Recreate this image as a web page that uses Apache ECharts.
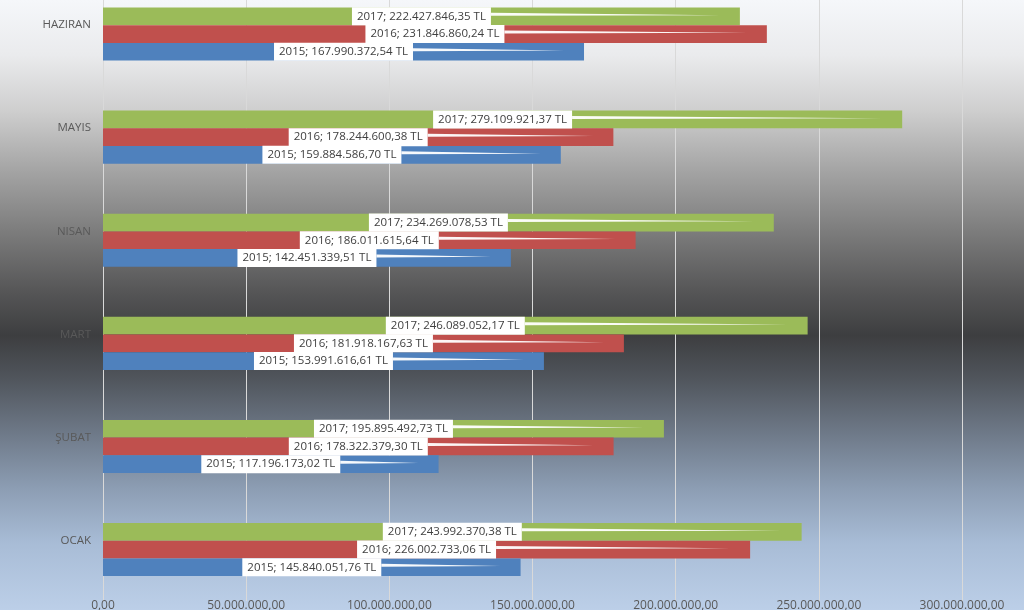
<!DOCTYPE html>
<html>
<head>
<meta charset="utf-8">
<script src="https://cdn.jsdelivr.net/npm/echarts@6/dist/echarts.min.js"></script>
<style>
html,body{margin:0;padding:0;}
#chart{width:1024px;height:610px;
background:linear-gradient(to bottom,#f5f7fa 0%,#eaebed 9%,#cfcfcf 18%,#a4a4a4 28%,#7c7c7c 38%,#555556 48%,#3d3e40 55%,#50555c 62%,#6e7988 71%,#8c9db3 80%,#a8bcd6 89%,#bccfe8 100%);}
</style>
</head>
<body>
<div id="chart"></div>
<script>
const categories = ['OCAK', 'ŞUBAT', 'MART', 'NISAN', 'MAYIS', 'HAZIRAN'];
const seriesNames = ['2015', '2016', '2017'];
const values2015 = [145840051.76, 117196173.02, 153991616.61, 142451339.51, 159884586.70, 167990372.54];
const values2016 = [226002733.06, 178322379.30, 181918167.63, 186011615.64, 178244600.38, 231846860.24];
const values2017 = [243992370.38, 195895492.73, 246089052.17, 234269078.53, 279109921.37, 222427846.35];
const xTicks = [0, 50000000, 100000000, 150000000, 200000000, 250000000, 300000000];
const colors = ['#4f81bd', '#c0504d', '#9bbb59'];

const allValues = [values2015, values2016, values2017];
const GAP = 0.485;
const LABEL_FONT = "11.5px 'Open Sans'";

function trFmt(v) {
  const parts = v.toFixed(2).split('.');
  return parts[0].replace(/\B(?=(\d{3})+(?!\d))/g, '.') + ',' + parts[1];
}
function labelText(name, v) { return name + '; ' + trFmt(v) + ' TL'; }

const mctx = document.createElement('canvas').getContext('2d');
mctx.font = LABEL_FONT;
function textW(t) { return mctx.measureText(t).width; }

const chart = echarts.init(document.getElementById('chart'), null, {renderer: 'canvas'});

// ECharts stacks horizontal bar series top-down, so 2017 goes first (top)
const order = [2, 1, 0];
const barSeries = order.map(i => ({
  name: seriesNames[i],
  type: 'bar',
  data: allValues[i],
  barGap: '0%',
  barCategoryGap: (GAP * 100) + '%',
  itemStyle: {color: colors[i]},
  z: 2,
  label: {
    show: true,
    position: 'inside',
    formatter: p => labelText(p.seriesName, p.value),
    backgroundColor: '#ffffff',
    color: '#404040',
    fontFamily: 'Open Sans',
    fontSize: 11.5,
    lineHeight: 14,
    padding: [2, 5, 2, 5]
  }
}));

const wedgeData = [];
allValues.forEach((arr, s) => arr.forEach((v, c) => wedgeData.push([v, c, s])));

const wedgeSeries = {
  type: 'custom',
  z: 3,
  silent: true,
  data: wedgeData,
  encode: {x: 0, y: 1},
  renderItem: function (params, api) {
    const v = api.value(0), c = api.value(1), s = api.value(2);
    const end = api.coord([v, c]);
    const start = api.coord([0, c]);
    const band = api.size([0, 1])[1];
    const bw = band * (1 - GAP) / 3;
    const k = order.indexOf(s);
    const cy = end[1] + (k - 1) * bw;
    const cx = (start[0] + end[0]) / 2;
    const half = textW(labelText(seriesNames[s], v)) / 2 + 5;
    const x0 = cx + half;
    const tip = end[0] - 20;
    return {
      type: 'polygon',
      shape: {points: [[x0, cy - 3.5], [x0, cy - 0.5], [tip, cy - 1.2]]},
      style: {fill: '#ffffff', opacity: 0.95}
    };
  }
};

chart.setOption({
  animation: false,
  backgroundColor: 'transparent',
  grid: {left: 103, right: 62, top: -17.5, height: 618.6, containLabel: false, outerBoundsMode: 'none'},
  xAxis: {
    type: 'value',
    min: 0,
    max: 300000000,
    interval: 50000000,
    axisLine: {show: false},
    axisTick: {show: false},
    splitLine: {show: true, lineStyle: {color: '#d9d9d9', width: 1}},
    axisLabel: {
      color: '#595959',
      fontFamily: 'Open Sans',
      fontSize: 12,
      margin: -2,
      formatter: v => xTicks.indexOf(v) >= 0 ? trFmt(v) : ''
    }
  },
  yAxis: {
    type: 'category',
    data: categories,
    axisTick: {show: false},
    axisLine: {show: true, lineStyle: {color: '#d9d9d9', width: 1}},
    axisLabel: {
      color: '#595959',
      fontFamily: 'Open Sans',
      fontSize: 11.5,
      lineHeight: 18,
      margin: 12,
      formatter: v => v + '\n '
    }
  },
  series: [...barSeries, wedgeSeries]
});
</script>
</body>
</html>
